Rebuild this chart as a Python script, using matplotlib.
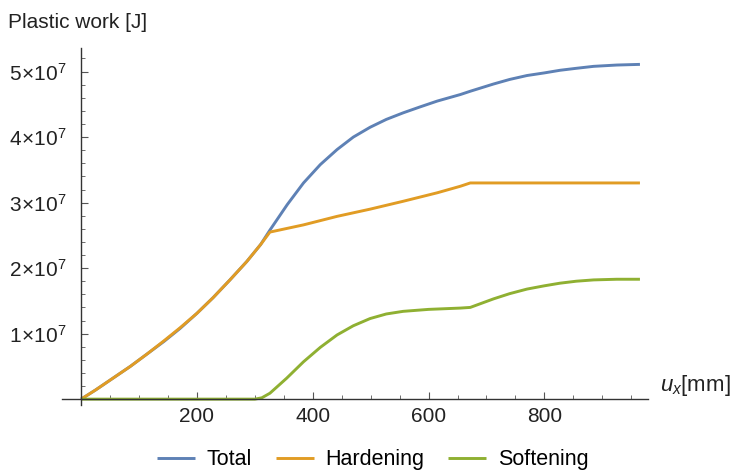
"""Plastic work vs displacement, Mathematica-like look"""

import matplotlib
import matplotlib.pyplot as plt
from matplotlib.ticker import FixedLocator, FuncFormatter

matplotlib.use("Agg")

plt.rcParams["font.family"] = ["Liberation Sans", "DejaVu Sans"]
plt.rcParams["mathtext.fontset"] = "custom"
plt.rcParams["mathtext.rm"] = "Liberation Sans"
plt.rcParams["mathtext.it"] = "Liberation Sans:italic"

# values (x in mm, y in 1e7 J)
total_x = [0, 25, 55, 85, 114, 143, 171, 200, 228, 257, 286, 310, 326, 356, 384, 413, 442,
           470, 499, 527, 556, 585, 615, 655, 672, 712, 740, 770, 800, 827, 855, 885, 925, 965]
total_y = [0, 0.14, 0.32, 0.50, 0.69, 0.88, 1.08, 1.31, 1.55, 1.82, 2.10, 2.36, 2.58, 2.97, 3.30, 3.58, 3.81,
           4.00, 4.15, 4.27, 4.37, 4.46, 4.55, 4.65, 4.70, 4.81, 4.88, 4.94, 4.98, 5.02, 5.05, 5.08, 5.10, 5.11]

hard_x = [0, 25, 55, 85, 114, 143, 171, 200, 228, 257, 286, 310, 326, 384, 442, 499, 556, 615,
          655, 672, 720, 800, 880, 965]
hard_y = [0, 0.14, 0.32, 0.50, 0.69, 0.89, 1.09, 1.31, 1.55, 1.82, 2.10, 2.36, 2.55, 2.66, 2.79, 2.90, 3.02, 3.15,
          3.25, 3.30, 3.30, 3.30, 3.30, 3.30]

soft_x = [0, 100, 200, 300, 312, 326, 355, 384, 413, 442, 470, 499, 527, 556, 600, 655, 672, 712, 740,
          770, 800, 827, 855, 885, 925, 965]
soft_y = [0, 0, 0, 0, 0.02, 0.09, 0.32, 0.57, 0.79, 0.98, 1.12, 1.23, 1.30, 1.34, 1.37, 1.39, 1.40, 1.53, 1.61,
          1.68, 1.73, 1.77, 1.80, 1.82, 1.83, 1.83]

labels = ["Total", "Hardening", "Softening"]
colors = ["#5E81B5", "#E19C24", "#8FB032"]

fig = plt.figure(figsize=(7.34, 4.72), dpi=100)
ax = fig.add_axes([0.0845, 0.1419, 0.7984, 0.7564])

for xs, ys, lab, col in zip([total_x, hard_x, soft_x], [total_y, hard_y, soft_y], labels, colors):
    ax.plot(xs, [v * 1e7 for v in ys], color=col, lw=2.1, label=lab, solid_capstyle="butt")

ax.set_xlim(-33, 979)
ax.set_ylim(-0.09e7, 5.36e7)

for side in ["top", "right"]:
    ax.spines[side].set_visible(False)
ax.spines["left"].set_position(("data", 0))
ax.spines["bottom"].set_position(("data", 0))
for side in ["left", "bottom"]:
    ax.spines[side].set_color("#333333")
    ax.spines[side].set_linewidth(1.0)

ax.xaxis.set_major_locator(FixedLocator([200, 400, 600, 800]))
ax.xaxis.set_minor_locator(FixedLocator([v for v in range(50, 1000, 50) if v % 200]))
ax.yaxis.set_major_locator(FixedLocator([1e7, 2e7, 3e7, 4e7, 5e7]))
ax.yaxis.set_minor_locator(FixedLocator([v * 1e6 for v in range(2, 54, 2) if v % 10]))
ax.yaxis.set_major_formatter(FuncFormatter(lambda v, p: r"$%d\!\times\!10^{7}$" % round(v / 1e7)))

ax.tick_params(which="both", direction="in", colors="#555555", labelcolor="#222222", labelsize=15)
ax.tick_params(which="major", length=5, width=0.8)
ax.tick_params(which="minor", length=3, width=0.6)
ax.tick_params(axis="y", pad=10)
ax.tick_params(axis="x", pad=6)

fig.text(0.011, 0.953, "Plastic work [J]", fontsize=15, color="#222222", va="center", ha="left")
fig.text(0.899, 0.183, r"$u_x$[mm]", fontsize=16, color="#222222", va="center", ha="left")

fig.legend(loc="center", bbox_to_anchor=(0.508, 0.026), ncol=3, frameon=False, fontsize=15.5,
           handlelength=1.75, columnspacing=1.1, handletextpad=0.55)

plt.savefig("out.png", dpi=100)
